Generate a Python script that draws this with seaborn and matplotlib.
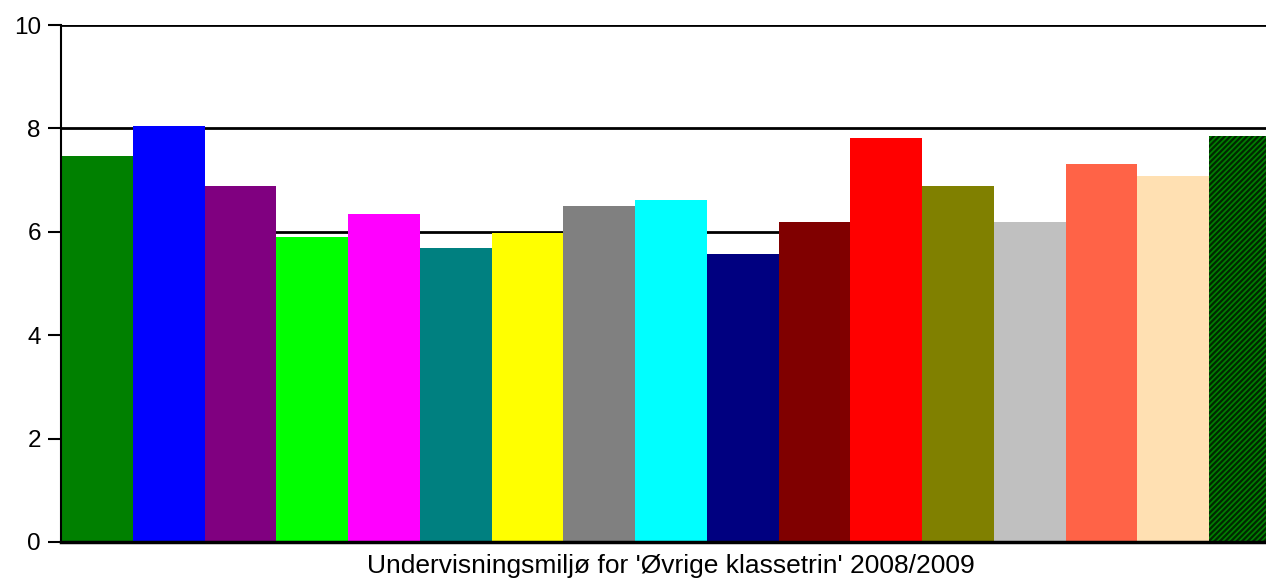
import numpy as np
import pandas as pd
import matplotlib
matplotlib.use("Agg")
import matplotlib.pyplot as plt
import seaborn as sns

# bar data
groups = [f"g{i}" for i in range(1, 18)]
scores = [7.47, 8.05, 6.89, 5.89, 6.34, 5.69, 5.98, 6.50, 6.62, 5.57,
          6.19, 7.81, 6.89, 6.19, 7.31, 7.08, 7.85]
colors = ["#008000", "#0000FF", "#800080", "#00FF00", "#FF00FF", "#008080",
          "#FFFF00", "#808080", "#00FFFF", "#000080", "#800000", "#FF0000",
          "#808000", "#C0C0C0", "#FF6347", "#FFE0B2", "#008000"]
y_ticks = [0, 2, 4, 6, 8, 10]
xlabel = "Undervisningsmiljø for 'Øvrige klassetrin' 2008/2009"

sns.set_style("white")
plt.rcParams["font.family"] = ["Liberation Sans", "DejaVu Sans"]
plt.rcParams["hatch.linewidth"] = 1.6
plt.rcParams["text.color"] = "black"
plt.rcParams["axes.labelcolor"] = "black"
plt.rcParams["ytick.color"] = "black"

df = pd.DataFrame({"group": groups, "score": scores})

fig = plt.figure(figsize=(12.66, 5.81), dpi=100)
W, H = 1266, 581
ax = fig.add_axes([61 / W, (H - 542) / H, (1281 - 61) / W, (542 - 25) / H])

sns.barplot(data=df, x="group", y="score", hue="group", palette=colors,
            width=1.0, dodge=False, legend=False, saturation=1, ax=ax,
            linewidth=0, zorder=2)

# last bar is hatched
last = ax.patches[-1]
last.set_hatch("//////")
last.set_edgecolor("#002800")
last.set_linewidth(0)

ax.set_ylim(0, 10)
ax.set_xlim(-0.5, len(groups) - 0.5)
ax.set_yticks(y_ticks)
ax.yaxis.grid(True, color="black", linewidth=2, zorder=1)
ax.set_axisbelow(True)
ax.tick_params(axis="y", length=9.5, width=1.5, color="black", labelcolor="black",
               labelsize=17.5, pad=5, left=True)
ax.tick_params(axis="x", bottom=False, labelbottom=False)
ax.set_xlabel(xlabel, fontsize=19, labelpad=9, color="black")
ax.set_ylabel("")

for side in ["top", "right"]:
    ax.spines[side].set_visible(False)
ax.spines["left"].set_color("black")
ax.spines["left"].set_linewidth(1.5)
ax.spines["bottom"].set_color("black")
ax.spines["bottom"].set_linewidth(2.5)
ax.spines["bottom"].set_zorder(3)

fig.savefig("out.png", dpi=100)
